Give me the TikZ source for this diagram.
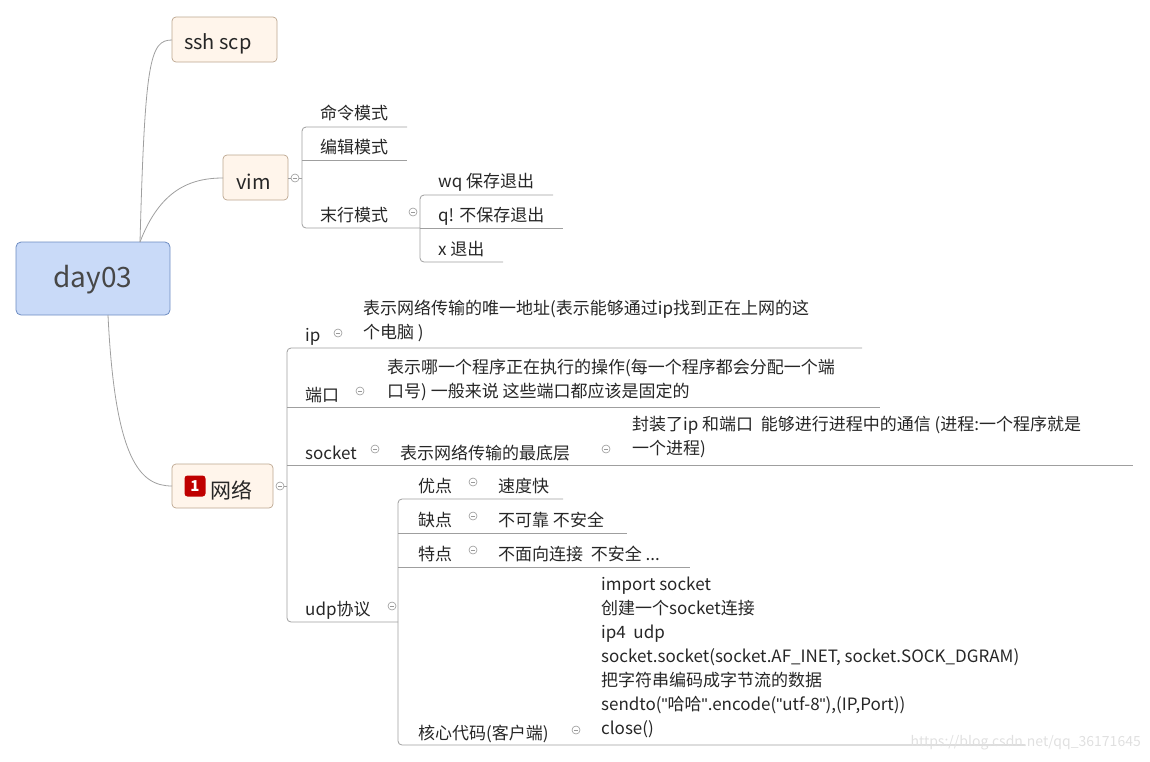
\documentclass[tikz,border=0pt]{standalone}
\usepackage{fontspec}
\setmainfont{Noto Sans CJK SC}
\newfontfamily\qfam{Liberation Sans}
\newcommand\dqt{{\qfam\symbol{34}}}
\begin{document}
\begin{tikzpicture}[x=1pt,y=-1pt,
  ln/.style={draw=gray!75,line width=0.8pt},
  br/.style={ln,rounded corners=4pt},
  tx/.style={anchor=west,inner sep=0pt,yshift=-3pt,font=\fontsize{17}{24}\selectfont,text=black!85},
  ml/.style={anchor=north west,inner sep=0pt,yshift=-4pt,align=left,font=\fontsize{17}{24}\selectfont,text=black!85},
  topic/.style={draw=brown!50!gray!70,fill=orange!8,rounded corners=4pt,line width=0.7pt},
  cc/.style={circle,draw=gray!80,fill=white,minimum size=8pt,inner sep=0pt,line width=0.6pt,
    path picture={\draw[gray!80,line width=0.6pt] ([xshift=-2pt]path picture bounding box.center)--([xshift=2pt]path picture bounding box.center);}}]
\useasboundingbox (0,0) rectangle (1150,761);
\definecolor{rootfill}{HTML}{C9DAF8}
\definecolor{rootdraw}{HTML}{6D8CC2}
% root
\draw[draw=rootdraw,fill=rootfill,rounded corners=5pt,line width=0.8pt] (16,242) rectangle (170,315);
\node[inner sep=0pt,font=\fontsize{28}{30}\selectfont,text=black!72] (root) at (93,280) {day03};
% topics
\draw[topic] (172,17) rectangle (277,62);
\node[tx,font=\fontsize{20}{22}\selectfont] (ssh) at (184,41) {ssh scp};
\draw[topic] (223,155) rectangle (288,200);
\node[tx,font=\fontsize{20}{22}\selectfont] (vim) at (236,179) {vim};
\draw[topic] (172,464) rectangle (273,508);
\node[fill=red!75!black,rounded corners=3pt,text=white,font=\fontsize{15}{15}\selectfont\bfseries,minimum width=21pt,minimum height=21pt,inner sep=0pt] (badge) at (195,486) {1};
\node[tx,font=\fontsize{21}{22}\selectfont] (net) at (210,487) {网络};
\coordinate (sshL) at (172,40);
\coordinate (vimL) at (223,178);
\coordinate (netL) at (172,486);
\draw[ln] (140,242) .. controls (145,60) and (150,40) .. (sshL);
\draw[ln] (140,242) .. controls (160,190) and (190,178) .. (vimL);
\draw[ln] (108,315) .. controls (115,460) and (140,486) .. (netL);
% vim children
\draw[ln] (288,178)--(294,178);
\node[cc] (cvim) at (295,178) {};
\draw[br] (407,127)--(302,127)--(302,228)--(420,228);
\draw[ln] (302,160)--(407,160);
\draw[ln] (299,178)--(302,178);
\node[tx] (m1) at (320,110) {命令模式};
\node[tx] (m2) at (320,144) {编辑模式};
\node[tx] (m3) at (320,212) {末行模式};
\node[cc] (c3) at (413,212) {};
\draw[br] (553,195)--(420,195)--(420,262)--(503,262);
\draw[ln] (420,228)--(563,228);
\node[tx] (w1) at (438,179) {wq 保存退出};
\node[tx] (w2) at (438,213) {q! 不保存退出};
\node[tx] (w3) at (438,246) {x 退出};
% network children
\node[cc] (cnet) at (280,486) {};
\draw[ln] (284,486)--(287,486);
\draw[br] (862,348)--(287,348)--(287,622)--(398,622);
\draw[ln] (287,407)--(880,407);
\draw[ln] (287,465)--(1133,465);
\node[tx] (ip) at (305,334) {ip};
\node[cc] at (338,333) {};
\node[ml] (ipt) at (363,296) {表示网络传输的唯一地址(表示能够通过ip找到正在上网的这\\个电脑 )};
\node[tx] (port) at (305,392) {端口};
\node[cc] at (360,391) {};
\node[ml] (portt) at (387,355) {表示哪一个程序正在执行的操作(每一个程序都会分配一个端\\口号) 一般来说 这些端口都应该是固定的};
\node[tx] (sock) at (305,450) {socket};
\node[cc] at (375,449) {};
\node[tx] (sockt) at (400,450) {表示网络传输的最底层};
\node[cc] at (606,449) {};
\node[ml] (sockt2) at (632,412) {封装了ip 和端口\ \ 能够进行进程中的通信 (进程:一个程序就是\\一个进程)};
\node[tx] (udp) at (305,607) {udp协议};
\node[cc] at (392,606) {};
% udp children
\draw[br] (563,499)--(398,499)--(398,745)--(1025,745);
\draw[ln] (398,533)--(627,533);
\draw[ln] (398,567)--(690,567);
\node[tx] at (418,483) {优点};
\node[cc] at (473,482) {};
\node[tx] at (498,483) {速度快};
\node[tx] at (418,517) {缺点};
\node[cc] at (473,516) {};
\node[tx] at (498,517) {不可靠 不安全};
\node[tx] at (418,551) {特点};
\node[cc] at (473,550) {};
\node[tx] at (498,551) {不面向连接\ \ 不安全 ...};
\node[tx] (core) at (418,731) {核心代码(客户端)};
\node[cc] at (576,730) {};
\node[ml] (code) at (601,573) {import socket\\创建一个socket连接\\ip4\ \ udp\\socket.socket(socket.AF\_INET, socket.SOCK\_DGRAM)\\把字符串编码成字节流的数据\\sendto(\dqt 哈哈\dqt.encode(\dqt utf-8\dqt),(IP,Port))\\close()};
\node[anchor=east,inner sep=0pt,text=black!12,font=\fontsize{14}{14}\selectfont] (wm) at (1141,743) {https://blog.csdn.net/qq\_36171645};
\end{tikzpicture}
\end{document}
